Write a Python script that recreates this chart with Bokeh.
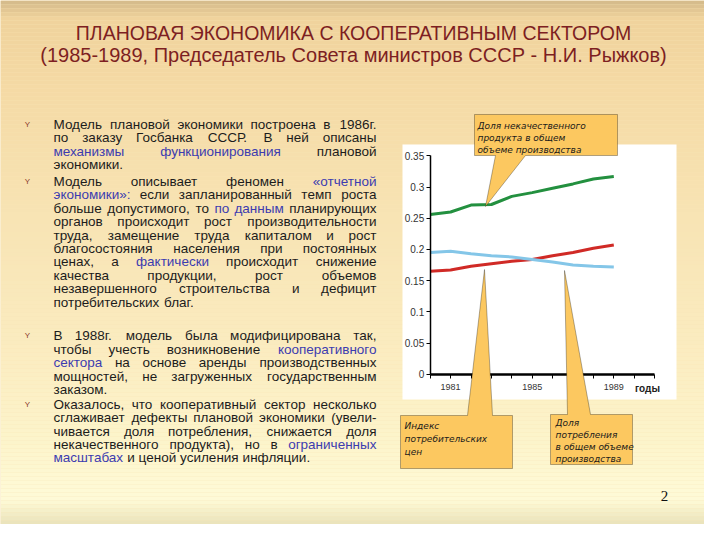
from bokeh.plotting import figure
from bokeh.models import Range1d, LinearAxis, FixedTicker, Label, BoxAnnotation, PolyAnnotation
from bokeh.embed import file_html
from bokeh.resources import INLINE


# chart data (shares of total output)
years = [1980, 1981, 1982, 1983, 1984, 1985, 1986, 1987, 1988, 1989]
defect_share = [0.256, 0.260, 0.271, 0.272, 0.285, 0.291, 0.298, 0.305, 0.313, 0.317]
price_index = [0.165, 0.167, 0.173, 0.177, 0.181, 0.184, 0.190, 0.195, 0.202, 0.207]
consumption_share = [0.195, 0.197, 0.193, 0.190, 0.188, 0.184, 0.180, 0.175, 0.173, 0.172]

y_ticks = [0, 0.05, 0.1, 0.15, 0.2, 0.25, 0.3, 0.35]
y_tick_labels = ["0", "0.05", "0.1", "0.15", "0.2", "0.25", "0.3", "0.35"]
x_ticks = list(range(1980, 1992))
x_tick_labels = {1981: "1981", 1985: "1985", 1989: "1989"}
x_axis_name = "годы"

title_lines = ["ПЛАНОВАЯ ЭКОНОМИКА С КООПЕРАТИВНЫМ СЕКТОРОМ",
               "(1985-1989, Председатель Совета министров СССР - Н.И. Рыжков)"]

callout_top = ["Доля некачественного", "продукта в общем", "объеме производства"]
callout_left = ["Индекс", "потребительских", "цен"]
callout_right = ["Доля", "потребления", "в общем объеме", "производства"]

# words starting with * are blue
bullets = [
    (132, ["Модель плановой экономики построена в 1986г.",
           "по заказу Госбанка СССР. В ней описаны",
           "*механизмы *функционирования плановой",
           "экономики."]),
    (189, ["Модель описывает феномен *«отчетной",
           "*экономики»: если запланированный темп роста",
           "больше допустимого, то *по *данным планирующих",
           "органов происходит рост производительности",
           "труда, замещение труда капиталом и рост",
           "благосостояния населения при постоянных",
           "ценах, а *фактически происходит снижение",
           "качества продукции, рост объемов",
           "незавершенного строительства и дефицит",
           "потребительских благ."]),
    (343.3, ["В 1988г. модель была модифицирована так,",
             "чтобы учесть возникновение *кооперативного",
             "*сектора на основе аренды производственных",
             "мощностей, не загруженных государственным",
             "заказом."]),
    (411.7, ["Оказалось, что кооперативный сектор несколько",
             "сглаживает дефекты плановой экономики (увели-",
             "чивается доля потребления, снижается доля",
             "некачественного продукта), но в *ограниченных",
             "*масштабах и ценой усиления инфляции."]),
]


#page geometry (reference pixels, page margin 8)
W, H, OFF = 704, 524, 8
X0_PX, PX_YEAR = 437.7, 20.4
Y0_PX, PX_UNIT = 381.7, 623.9


def sx(x):
    return x - OFF


def sy(y):
    return OFF + H - y


# Arial / Liberation Sans advance widths, for justifying the body text
ARIAL = dict(zip("абвгдеёжзийклмнопрстуфхцчшщъыьэюя",
                 [556, 573, 531, 365, 583, 556, 556, 669, 458, 559, 559, 438, 583, 688, 552, 556, 542,
                  556, 500, 458, 500, 823, 500, 573, 521, 802, 823, 625, 719, 521, 510, 750, 542]))
ARIAL.update(zip("АБВГДЕЁЖЗИЙКЛМНОПРСТУФХЦЧШЩЪЫЬЭЮЯ",
                 [667, 656, 667, 542, 677, 667, 667, 923, 604, 719, 719, 583, 656, 833, 722, 778, 719,
                  667, 722, 611, 635, 760, 667, 740, 667, 917, 938, 792, 885, 656, 719, 1010, 722]))
ARIAL.update({c: 556 for c in "0123456789«»"})
ARIAL.update({" ": 278, ".": 278, ",": 278, ":": 278, "(": 333, ")": 333, "-": 333})


def text_width(s, size):
    return sum(ARIAL.get(ch, 556) for ch in s) * size / 1000


p = figure(width=W, height=H, title=None, toolbar_location=None, output_backend="svg",
           x_axis_location=None, y_axis_location=None, min_border=0,
           x_range=Range1d(1980 - (X0_PX - OFF) / PX_YEAR, 1980 + (OFF + W - X0_PX) / PX_YEAR),
           y_range=Range1d(-(OFF + H - Y0_PX) / PX_UNIT, (Y0_PX - OFF) / PX_UNIT))
p.outline_line_color = None
p.grid.visible = False
p.background_fill_color = "#f8e4b4"
p.border_fill_color = "#f8e4b4"


#slide background gradient
stops = [(8, (214, 188, 140)), (24, (240, 211, 157)), (90, (245, 218, 165)), (220, (248, 228, 180)),
         (350, (251, 236, 192)), (450, (253, 245, 204)), (505, (255, 251, 216)), (532, (232, 224, 184))]
y = 8
while y < 532:
    for (ya, ca), (yb, cb) in zip(stops, stops[1:]):
        if ya <= y < yb:
            t = (y - ya) / (yb - ya)
            c = tuple(int(a + (b - a) * t) for a, b in zip(ca, cb))
    p.add_layout(BoxAnnotation(left=0, right=W, top=sy(y), bottom=sy(y + 4),
                               left_units="screen", right_units="screen", top_units="screen",
                               bottom_units="screen", fill_color="#%02x%02x%02x" % c, fill_alpha=1,
                               line_color=None, level="underlay"))
    y += 4

#white chart panel
p.add_layout(BoxAnnotation(left=sx(410), right=sx(684), top=sy(152), bottom=sy(407),
                           left_units="screen", right_units="screen", top_units="screen",
                           bottom_units="screen", fill_color="white", fill_alpha=1,
                           line_color=None, level="underlay"))


#axes inside the panel
yaxis = LinearAxis(fixed_location=1980, bounds=(0, 0.35), ticker=FixedTicker(ticks=y_ticks))
yaxis.major_label_overrides = dict(zip(y_ticks, y_tick_labels))
yaxis.axis_line_width = 1.5
yaxis.major_tick_out = 4
yaxis.major_tick_in = 0
yaxis.major_label_standoff = 2
yaxis.major_label_text_font = "Liberation Sans"
yaxis.major_label_text_font_size = "10px"
yaxis.major_label_text_color = "#333333"
p.add_layout(yaxis, "left")

xaxis = LinearAxis(fixed_location=0, bounds=(1980, 1991), ticker=FixedTicker(ticks=x_ticks))
xaxis.major_label_overrides = {t: x_tick_labels.get(t, "") for t in x_ticks}
xaxis.axis_line_width = 2.5
xaxis.major_tick_out = 4
xaxis.major_tick_in = 0
xaxis.major_label_standoff = 6
xaxis.major_label_text_font = "Liberation Sans"
xaxis.major_label_text_font_size = "9px"
xaxis.major_label_text_color = "#333333"
p.add_layout(xaxis, "below")

p.add_layout(Label(x=sx(655), y=sy(396), x_units="screen", y_units="screen", text=x_axis_name,
                   text_font="Liberation Sans", text_font_size="10px", text_font_style="bold",
                   text_align="center", text_baseline="middle", text_color="#222222"))


#series
p.line(years, defect_share, line_color="#23903f", line_width=3)
p.line(years, price_index, line_color="#d02a26", line_width=3)
p.line(years, consumption_share, line_color="#84c6e8", line_width=3)


#callouts
def callout(box, base, tip):
    (l, t, r, b), (b0, b1) = box, base
    if tip[1] < t:
        xs = [l, b0, tip[0], b1, r, r, l]
        ys = [t, t, tip[1], t, t, b, b]
    else:
        xs = [l, r, r, b1, tip[0], b0, l]
        ys = [t, t, b, b, tip[1], b, b]
    p.add_layout(PolyAnnotation(xs=[sx(v) for v in xs], ys=[sy(v) for v in ys],
                                xs_units="screen", ys_units="screen", fill_color="#fcc860",
                                fill_alpha=1, line_color="black", line_width=1))


callout((482, 122, 625, 163), (503, 533), (493, 214))
callout((408, 423, 520, 476), (475, 500), (492, 277))
callout((558, 422, 640, 472), (575, 598), (572, 278))


def callout_text(lines, x, y0, step):
    for i, line in enumerate(lines):
        p.add_layout(Label(x=sx(x), y=sy(y0 + i * step), x_units="screen", y_units="screen",
                           text=line, text_font="DejaVu Sans", text_font_size="9px",
                           text_font_style="italic", text_baseline="middle", text_color="#1a1a1a"))


callout_text(callout_top, 485, 133, 12)
callout_text(callout_left, 412, 433, 13)
callout_text(callout_right, 563, 430, 12)


#title
for line, ty, fs in zip(title_lines, [40, 62], ["19.5px", "20px"]):
    p.add_layout(Label(x=sx(361), y=sy(ty), x_units="screen", y_units="screen", text=line,
                       text_font="Liberation Sans", text_font_size=fs, text_align="center",
                       text_baseline="middle", text_color="#7d1f22"))


#body text, justified
LEFT, RIGHT, STEP, SIZE = 61, 384, 13.4, 13.5
INK, BLUE = "#1c1c1c", "#3c3cb0"

for start_y, lines in bullets:
    p.add_layout(Label(x=sx(35), y=sy(start_y), x_units="screen", y_units="screen", text="Y",
                       text_font="Liberation Sans", text_font_size="8px", text_align="center",
                       text_baseline="middle", text_color="#8a3a28"))
    for i, line in enumerate(lines):
        ly = start_y + i * STEP
        words = line.split()
        clean = [w.lstrip("*") for w in words]
        widths = [text_width(w, SIZE) for w in clean]
        justified = i < len(lines) - 1 and len(words) > 1
        if justified:
            gap = (RIGHT - LEFT - sum(widths)) / (len(words) - 1)
        else:
            gap = text_width(" ", SIZE)
        x = LEFT
        for j, w in enumerate(words):
            last = justified and j == len(words) - 1
            p.add_layout(Label(x=sx(RIGHT if last else x), y=sy(ly), x_units="screen", y_units="screen",
                               text=clean[j], text_font="Liberation Sans", text_font_size="%.1fpx" % SIZE,
                               text_align="right" if last else "left", text_baseline="middle",
                               text_color=BLUE if w.startswith("*") else INK))
            x += widths[j] + gap


#page number
p.add_layout(Label(x=sx(672), y=sy(503), x_units="screen", y_units="screen", text="2",
                   text_font="Liberation Serif", text_font_size="15px", text_align="center",
                   text_baseline="middle", text_color="#111111"))


open("out.html", "w").write(file_html(p, INLINE))
